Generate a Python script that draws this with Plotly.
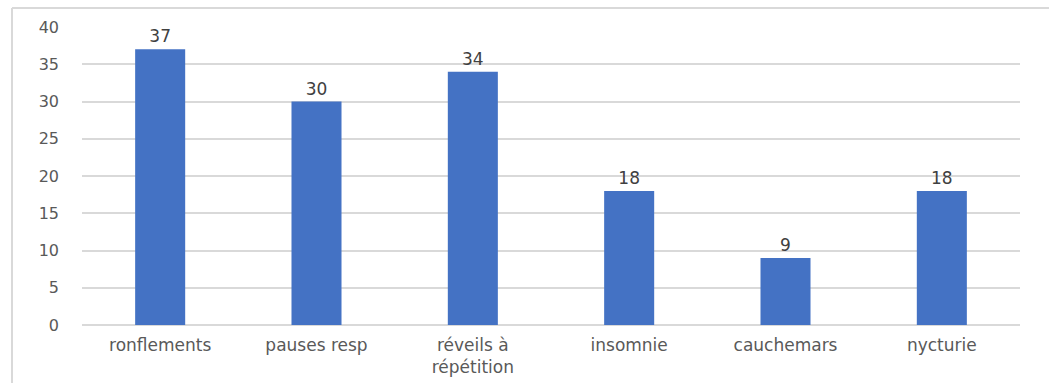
import plotly.graph_objects as go

categories = ["ronflements", "pauses resp", "réveils à<br>répétition", "insomnie", "cauchemars", "nycturie"]
values = [37, 30, 34, 18, 9, 18]
y_ticks = [0, 5, 10, 15, 20, 25, 30, 35, 40]

L, R, T, B = 82, 29, 27, 58
W, H = 1049, 383
pw, ph = W - L - R, H - T - B

fig = go.Figure(go.Bar(
    x=categories, y=values, width=0.32,
    marker=dict(color="#4472C4", line=dict(width=0)),
    text=[str(v) for v in values], textposition="outside",
    textfont=dict(size=17, color="#404040"),
    cliponaxis=False,
))

bx0 = (12 - L) / pw
by1 = 1 + (T - 8) / ph
by0 = -(H - T - ph + 5) / ph
bx1 = (W + 5 - L) / pw
fig.add_shape(type="line", xref="paper", yref="paper", x0=bx0, x1=bx1, y0=by1, y1=by1,
              line=dict(color="#d9d9d9", width=2))
fig.add_shape(type="line", xref="paper", yref="paper", x0=bx0, x1=bx0, y0=by0, y1=by1,
              line=dict(color="#d9d9d9", width=2))

fig.update_layout(
    width=W, height=H,
    margin=dict(l=L, r=R, t=T, b=B, autoexpand=False),
    plot_bgcolor="white", paper_bgcolor="white",
    font=dict(family="DejaVu Sans", size=16, color="#595959"),
    showlegend=False,
    bargap=0.68,
    xaxis=dict(showgrid=False, showline=False, ticks="", ticklabelstandoff=8, automargin=False,
               tickfont=dict(size=17, color="#595959")),
    yaxis=dict(range=[0, 40], tickvals=y_ticks, showgrid=True, gridcolor="#d9d9d9", gridwidth=1.5,
               zeroline=True, zerolinecolor="#d9d9d9", zerolinewidth=1.5, automargin=False,
               ticks="", ticklen=0, ticklabelstandoff=22, tickfont=dict(size=16, color="#595959")),
)
fig.write_html("out.html")
